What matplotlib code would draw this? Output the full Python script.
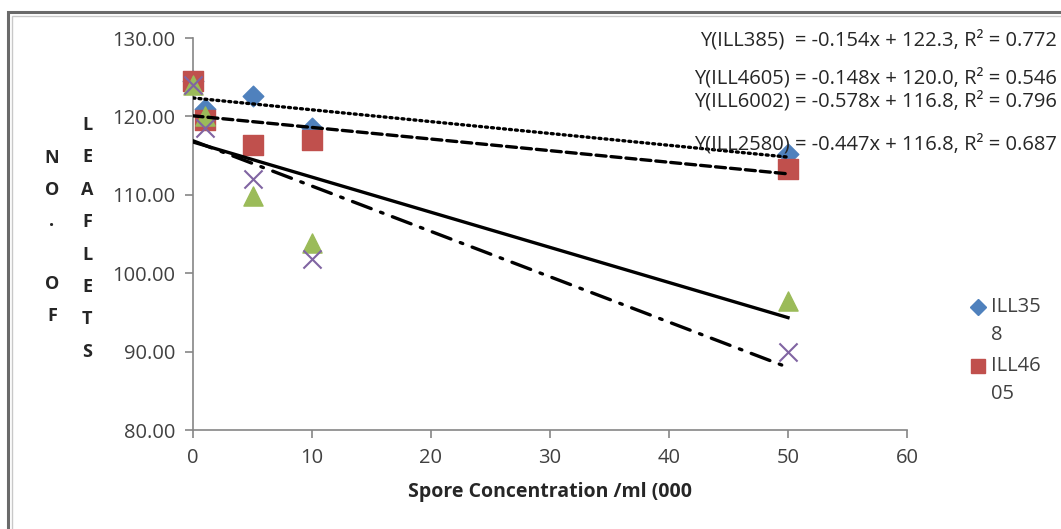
import matplotlib.pyplot as plt
from matplotlib.patches import Rectangle
from matplotlib.lines import Line2D
import numpy as np

# --------------- data ---------------
conc = [0, 1, 5, 10, 50]
ill358 = [124.5, 121.0, 122.6, 118.5, 115.2]
ill4605 = [124.5, 119.5, 116.3, 117.0, 113.3]
ill2580 = [124.0, 120.0, 109.8, 103.9, 96.4]
ill6002 = [124.0, 118.5, 112.0, 101.8, 90.0]

eq_labels = [
    'Y(ILL385)  = -0.154x + 122.3, R\u00b2 = 0.772',
    'Y(ILL4605) = -0.148x + 120.0, R\u00b2 = 0.546',
    'Y(ILL6002) = -0.578x + 116.8, R\u00b2 = 0.796',
    'Y(ILL2580) = -0.447x + 116.8, R\u00b2 = 0.687',
]
legend_labels = [('ILL35', '8'), ('ILL46', '05')]
yticks = [80, 90, 100, 110, 120, 130]
xticks = [0, 10, 20, 30, 40, 50, 60]
# ----------------------------------------

plt.rcParams['font.family'] = ['Open Sans', 'DejaVu Sans']

W, H = 1061, 529
fig = plt.figure(figsize=(W / 100, H / 100), dpi=100)
ax = fig.add_axes([193 / W, 1 - 430 / H, (907 - 193) / W, (430 - 38) / H])

# outer chart frame
fig.patches.append(Rectangle((8 / W, -0.1), 1.2, 1 - 12 / H + 0.1, transform=fig.transFigure,
                             fill=False, edgecolor='#6a6a6a', linewidth=2.2))
fig.patches.append(Rectangle((12 / W, -0.1), 1.2, 1 - 16 / H + 0.1, transform=fig.transFigure,
                             fill=False, edgecolor='#c8c8c8', linewidth=1))

gray = '#868686'
blue, red, green, purple = '#4F81BD', '#C0504D', '#9BBB59', '#8064A2'
ax.scatter(conc, ill358, marker='D', s=110, color=blue, zorder=3, clip_on=False)
ax.scatter(conc, ill4605, marker='s', s=190, color=red, zorder=3, clip_on=False)
ax.scatter(conc, ill2580, marker='^', s=190, color=green, zorder=3, clip_on=False)
ax.scatter(conc, ill6002, marker='x', s=170, color=purple, linewidths=1.5, zorder=3, clip_on=False)

# linear trendlines
xs = np.array([min(conc), max(conc)])
styles = [(ill358, (0, (0.6, 1.2))), (ill4605, (0, (3, 1.5))),
          (ill2580, '-'), (ill6002, (0, (6, 3, 0.8, 3)))]
for ys, ls in styles:
    m, b = np.polyfit(conc, ys, 1)
    ax.plot(xs, m * xs + b, color='black', linewidth=2.4, linestyle=ls,
            dash_capstyle='round' if ls != '-' else 'butt', zorder=4)

ax.set_xlim(0, 60)
ax.set_ylim(80, 130)
ax.set_xticks(xticks)
ax.set_yticks(yticks)
ax.set_yticklabels(['%.2f' % v for v in yticks])
for s in ['top', 'right']:
    ax.spines[s].set_visible(False)
for s in ['left', 'bottom']:
    ax.spines[s].set_color(gray)
    ax.spines[s].set_linewidth(1.2)
ax.tick_params(direction='out', length=6, color=gray, width=1.2,
               labelsize=14.5, labelcolor='#404040', pad=7)

ax.set_xlabel('Spore Concentration /ml (000', fontsize=14, fontweight='bold',
              color='#262626', labelpad=10)

# equation text
eq_y = [40, 78, 101, 144]
for lab, yy in zip(eq_labels, eq_y):
    fig.text(1057 / W, 1 - yy / H, lab, ha='right', va='center', fontsize=14.5, color='#262626')

# stacked y label letters
for i, ch in enumerate('NO. OF'):
    if ch != ' ':
        fig.text(52 / W, 1 - (158 + i * 31.6) / H, ch, ha='center', va='center',
                 fontsize=13, fontweight='bold', color='#262626')
for i, ch in enumerate('LEAFLETS'):
    fig.text(87 / W, 1 - (125 + i * 32.4) / H, ch, ha='center', va='center',
             fontsize=13, fontweight='bold', color='#262626')

# legend (wrapped labels, marker on first line)
leg_markers = [('D', 8, blue), ('s', 10.5, red)]
for (l1, l2), (mk, ms, c), yy in zip(legend_labels, leg_markers, [307, 366]):
    fig.add_artist(Line2D([978 / W], [1 - yy / H], marker=mk, markersize=ms, color=c,
                          linestyle='none', transform=fig.transFigure))
    fig.text(991 / W, 1 - yy / H, l1, ha='left', va='center', fontsize=14.5, color='#404040')
    fig.text(991 / W, 1 - (yy + 28) / H, l2, ha='left', va='center', fontsize=14.5, color='#404040')

fig.savefig('out.png', dpi=100)
